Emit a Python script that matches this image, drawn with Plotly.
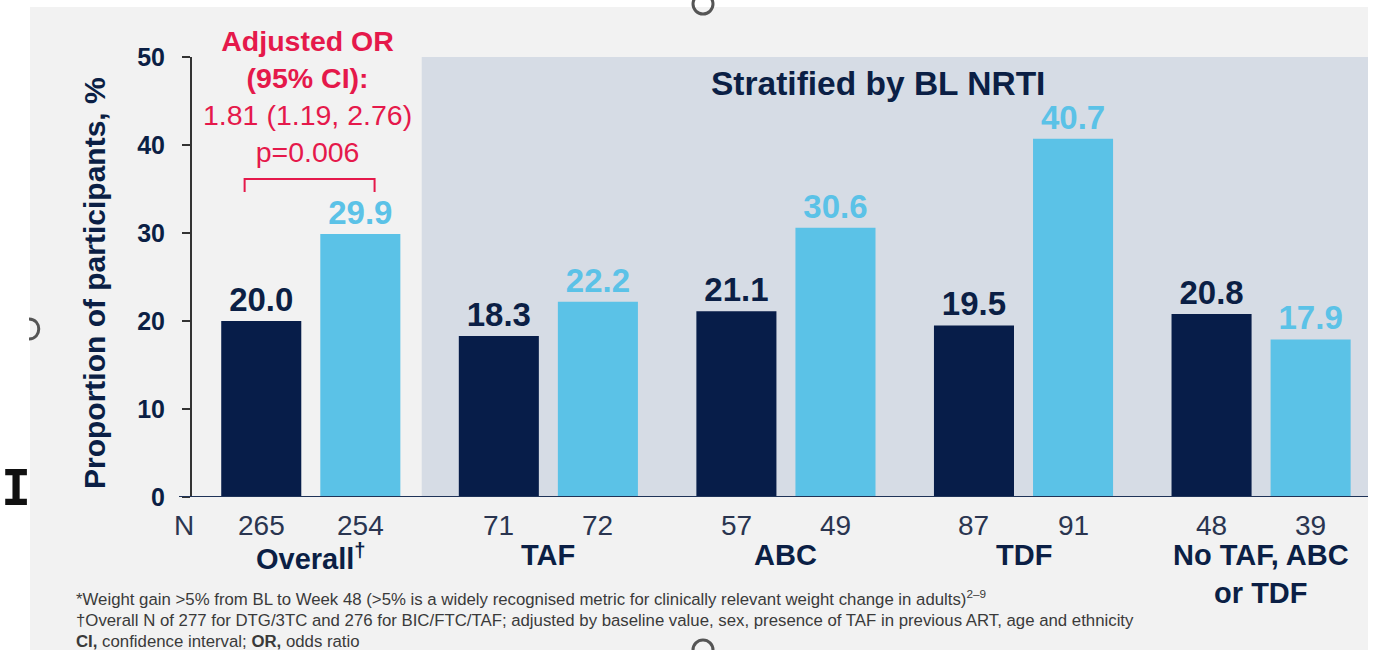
import plotly.graph_objects as go

# ---------------- data ----------------
groups = ["Overall", "TAF", "ABC", "TDF", "No TAF, ABC or TDF"]
group_labels = ["<b>Overall<sup>†</sup></b>", "<b>TAF</b>", "<b>ABC</b>", "<b>TDF</b>",
                "<b>No TAF, ABC</b><br><b>or TDF</b>"]
dtg_3tc = [20.0, 18.3, 21.1, 19.5, 20.8]
bic_ftc_taf = [29.9, 22.2, 30.6, 40.7, 17.9]
n_dtg = [265, 71, 57, 87, 48]
n_bic = [254, 72, 49, 91, 39]
y_ticks = [0, 10, 20, 30, 40, 50]

footnotes = [
    "*Weight gain >5% from BL to Week 48 (>5% is a widely recognised metric for clinically relevant weight change in adults)<sup>2–9</sup>",
    "†Overall N of 277 for DTG/3TC and 276 for BIC/FTC/TAF; adjusted by baseline value, sex, presence of TAF in previous ART, age and ethnicity",
    "<b>CI,</b> confidence interval; <b>OR,</b> odds ratio",
]
or_text = "<b>Adjusted OR</b><br><b>(95% CI):</b><br>1.81 (1.19, 2.76)<br>p=0.006"

# ---------------- style ----------------
NAVY = "#071d49"
LIGHT = "#5bc2e7"
SHADE = "#d6dce5"
PANEL = "#f2f2f2"
RED = "#e5194b"
TXT = "#0b1f45"
NTXT = "#2a3550"
FONT = "Liberation Sans, Arial, sans-serif"

W, H = 1389, 650
L, R, T, B = 192, 1368, 57, 497
bargap = 0.166
bargroupgap = 0.192
off = (1 - bargap) / 4  # offset of each bar centre from category centre

def px(x):
    return (x - L) / (R - L)

def py(y):
    return (B - y) / (B - T)

xi = list(range(len(groups)))

fig = go.Figure()
fig.add_trace(go.Bar(
    x=xi, y=dtg_3tc, marker=dict(color=NAVY, line=dict(width=0)),
    text=[f"<b>{v:.1f}</b>" for v in dtg_3tc], textposition="outside",
    textfont=dict(color=TXT, size=33, family=FONT), cliponaxis=False, name="DTG/3TC",
))
fig.add_trace(go.Bar(
    x=xi, y=bic_ftc_taf, marker=dict(color=LIGHT, line=dict(width=0)),
    text=[f"<b>{v:.1f}</b>" for v in bic_ftc_taf], textposition="outside",
    textfont=dict(color=LIGHT, size=33, family=FONT), cliponaxis=False, name="BIC/FTC/TAF",
))

hx, hy = 29, 329
shapes = [
    # slide panel
    dict(type="rect", xref="paper", yref="paper", x0=px(30), x1=px(1368), y0=py(650), y1=py(7),
         fillcolor=PANEL, line=dict(width=0), layer="below"),
    # stratified shaded region
    dict(type="rect", xref="x", yref="y", x0=0.467, x1=4.45, y0=0, y1=50,
         fillcolor=SHADE, line=dict(width=0), layer="below"),
    # baseline
    dict(type="line", xref="paper", yref="y", x0=px(179), x1=1, y0=0, y1=0,
         line=dict(color="#1f3358", width=2)),
    # OR bracket
    dict(type="path", xref="x", yref="paper",
         path=f"M {-off-0.07},{py(192)} L {-off-0.07},{py(179)} L {off+0.06},{py(179)} L {off+0.06},{py(192)}",
         line=dict(color=RED, width=2)),
    # selection handles (screenshot artefacts)
    dict(type="circle", xref="paper", yref="paper", x0=px(693), x1=px(713), y0=py(14), y1=py(-6),
         line=dict(color="#555555", width=3)),
    dict(type="circle", xref="paper", yref="paper", x0=px(693), x1=px(713), y0=py(660), y1=py(640),
         line=dict(color="#555555", width=3)),
    dict(type="path", xref="paper", yref="paper",
         path=f"M {px(hx)},{py(hy-10)} C {px(hx+13)},{py(hy-10)} {px(hx+13)},{py(hy+10)} {px(hx)},{py(hy+10)}",
         line=dict(color="#555555", width=3)),
]

ann = []
ann.append(dict(text=or_text, xref="x", yref="paper", x=-0.012, y=py(96), showarrow=False,
                font=dict(color=RED, size=28.5, family=FONT), align="center", yanchor="middle"))
ann.append(dict(text="<b>Stratified by BL NRTI</b>", xref="paper", yref="paper", x=px(878), y=py(83),
                showarrow=False, font=dict(color=TXT, size=33.5, family=FONT), yanchor="middle"))
ann.append(dict(text="<b>Proportion of participants, %</b>", xref="paper", yref="paper",
                x=px(94), y=py(283), textangle=-90, showarrow=False,
                font=dict(color=TXT, size=30, family=FONT), xanchor="center", yanchor="middle"))
ann.append(dict(text="N", xref="paper", yref="paper", x=px(172), y=py(525), showarrow=False,
                font=dict(color=NTXT, size=28, family=FONT), yanchor="middle"))
for i in xi:
    ann.append(dict(text=str(n_dtg[i]), xref="x", yref="paper", x=i - off, y=py(525), showarrow=False,
                    font=dict(color=NTXT, size=28, family=FONT), yanchor="middle"))
    ann.append(dict(text=str(n_bic[i]), xref="x", yref="paper", x=i + off, y=py(525), showarrow=False,
                    font=dict(color=NTXT, size=28, family=FONT), yanchor="middle"))
    ann.append(dict(text=group_labels[i], xref="x", yref="paper", x=i, y=py(537), showarrow=False,
                    font=dict(color=TXT, size=29, family=FONT), yanchor="top", align="center"))
for k, (fn, yy) in enumerate(zip(footnotes, [598, 620, 641])):
    ann.append(dict(text=fn, xref="paper", yref="paper", x=px(74), y=py(yy), showarrow=False,
                    font=dict(color="#3a3a3a", size=16.8, family=FONT), xanchor="left", yanchor="middle"))
# cursor artefact at left edge
ann.append(dict(text="<b>I</b>", xref="paper", yref="paper", x=px(0), y=py(488), showarrow=False,
                font=dict(color="#111111", size=50, family="DejaVu Sans Mono"), xanchor="left",
                yanchor="middle", borderpad=0))

fig.update_layout(
    width=W, height=H,
    margin=dict(l=L, r=W - R, t=T, b=H - B),
    paper_bgcolor="white", plot_bgcolor="rgba(0,0,0,0)",
    barmode="group", bargap=bargap, bargroupgap=bargroupgap,
    showlegend=False, shapes=shapes, annotations=ann,
    font=dict(family=FONT),
    xaxis=dict(range=[-0.5, 4.45], showticklabels=False, showgrid=False, zeroline=False,
               showline=False, ticks="", fixedrange=True),
    yaxis=dict(range=[0, 50], tickvals=y_ticks, showgrid=False, zeroline=False,
               showline=True, linecolor="#333333", linewidth=2,
               ticks="outside", ticklen=8, tickwidth=2, tickcolor="#333333",
               tickfont=dict(color=TXT, size=25, family=FONT, weight="bold"),
               ticklabelstandoff=12),
)

fig.write_html("out.html", config={"displayModeBar": False},
               post_script="document.body.style.margin='0';document.body.style.overflow='hidden';")
